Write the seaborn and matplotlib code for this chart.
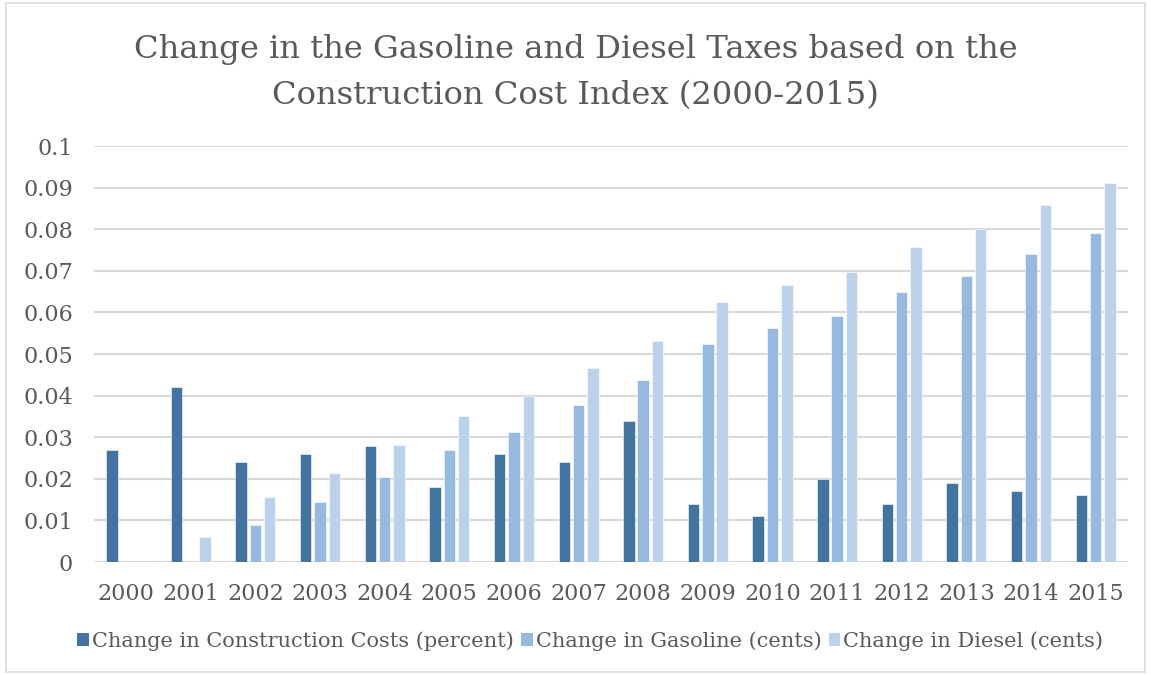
import pandas as pd
import numpy as np
import seaborn as sns
import matplotlib.pyplot as plt
from matplotlib.patches import Rectangle, Patch

# === DATA ===
years = [str(y) for y in range(2000, 2016)]
construction = [0.027, 0.042, 0.024, 0.026, 0.028, 0.018, 0.026, 0.024,
                0.034, 0.014, 0.011, 0.020, 0.014, 0.019, 0.017, 0.016]
gasoline = [0.0, 0.0, 0.009, 0.0145, 0.0205, 0.027, 0.0313, 0.0377,
            0.0438, 0.0525, 0.0562, 0.0592, 0.0648, 0.0687, 0.0741, 0.079]
diesel = [0.0, 0.006, 0.0157, 0.0215, 0.0281, 0.035, 0.0398, 0.0466,
          0.0531, 0.0625, 0.0666, 0.0697, 0.0757, 0.0800, 0.0857, 0.091]
series_names = ["Change in Construction Costs (percent)",
                "Change in Gasoline (cents)",
                "Change in Diesel (cents)"]
colors = ["#43739F", "#98B9DF", "#BDD1EA"]

df = pd.DataFrame({
    "Year": years * 3,
    "Value": construction + gasoline + diesel,
    "Series": np.repeat(series_names, len(years)),
})

sns.set_theme(style="white")
plt.rcParams['font.family'] = ['DejaVu Serif']
text_col = "#595959"

fig = plt.figure(figsize=(11.51, 6.75), dpi=100)
ax = fig.add_axes([0.0815, 0.1674, 0.8985, 0.6163])

sns.barplot(data=df, x="Year", y="Value", hue="Series", hue_order=series_names,
            palette=colors, saturation=1, width=0.665, gap=0.2,
            edgecolor="white", linewidth=0.4, ax=ax, legend=False, zorder=3)

ax.set_ylim(0, 0.1)
ax.set_xlim(-0.5, len(years) - 0.5)
ax.set_yticks(np.arange(0, 0.101, 0.01))
ax.set_yticklabels(["0", "0.01", "0.02", "0.03", "0.04", "0.05", "0.06",
                    "0.07", "0.08", "0.09", "0.1"])
ax.yaxis.grid(True, color="#D9D9D9", linewidth=1.5, zorder=0)
ax.set_axisbelow(True)
for s in ax.spines.values():
    s.set_visible(False)
ax.axhline(0, color="#D9D9D9", linewidth=1.5, zorder=1)
ax.tick_params(axis="both", length=0, labelsize=16, labelcolor=text_col)
ax.tick_params(axis="y", pad=15)
ax.tick_params(axis="x", pad=15)
ax.set_xlabel("")
ax.set_ylabel("")

fig.text(0.5, 0.8926,
         "Change in the Gasoline and Diesel Taxes based on the\nConstruction Cost Index (2000-2015)",
         fontsize=23.2, color=text_col, ha="center", va="center", linespacing=1.62)

handles = [Patch(facecolor=c, edgecolor="none") for c in colors]
fig.legend(handles, series_names, loc="center", bbox_to_anchor=(0.513, 0.05),
           ncol=3, frameon=False, fontsize=15, labelcolor=text_col,
           handlelength=0.55, handleheight=0.55, handletextpad=0.15,
           columnspacing=0.35)

# chart border
fig.patches.append(Rectangle((0.005, 0.005), 0.99, 0.99, transform=fig.transFigure,
                             fill=False, edgecolor="#D9D9D9", linewidth=1.2))

fig.savefig("out.png", dpi=100)
